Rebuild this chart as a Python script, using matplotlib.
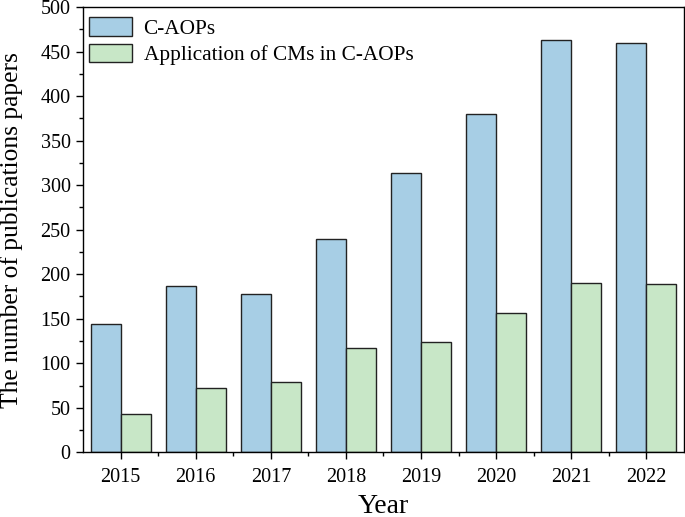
import numpy as np
import matplotlib
matplotlib.use('Agg')
import matplotlib.pyplot as plt
from matplotlib.ticker import MultipleLocator, FixedLocator


years = ['2015', '2016', '2017', '2018', '2019', '2020', '2021', '2022']
caops = [144, 187, 178, 240, 314, 380, 463, 459]
cms_in_caops = [43, 72, 79, 117, 124, 156, 190, 189]

plt.rcParams['font.family'] = ['Liberation Serif', 'DejaVu Serif']

fig = plt.figure(figsize=(6.85, 5.17), dpi=100)
ax = fig.add_axes([0.1212, 0.1251, 0.8773, 0.8614])

x = np.arange(len(years))
w = 0.4
ax.bar(x - w / 2, caops, w, color='#A7CEE5', edgecolor='#222222', linewidth=1.0,
       label='C-AOPs')
ax.bar(x + w / 2, cms_in_caops, w, color='#C8E7C7', edgecolor='#222222', linewidth=1.0,
       label='Application of CMs in C-AOPs')

ax.set_xlim(-0.5, len(years) - 0.5)
ax.set_ylim(0, 500)
ax.set_xticks(x)
ax.set_xticklabels(years)
ax.xaxis.set_minor_locator(FixedLocator(x[:-1] + 0.5))
ax.yaxis.set_major_locator(MultipleLocator(50))
ax.yaxis.set_minor_locator(MultipleLocator(25))

ax.tick_params(axis='both', which='major', labelsize=14.5, length=5, width=1.0,
               direction='out', top=False, right=False)
ax.tick_params(axis='x', which='major', pad=6)
ax.tick_params(axis='y', which='major', pad=4)
ax.tick_params(axis='both', which='minor', length=3, width=1.0,
               direction='out', top=False, right=False)

for s in ax.spines.values():
    s.set_linewidth(1.0)

ax.set_ylabel('The number of publications papers', fontsize=18.4)
ax.yaxis.set_label_coords(-0.1, 0.5)
ax.set_xlabel('Year', fontsize=20, labelpad=5)

ax.legend(loc='upper left', fontsize=15.3, frameon=False, handlelength=2.0,
          handleheight=0.95, labelspacing=0.22, borderaxespad=0.15, borderpad=0.15,
          handletextpad=0.55, bbox_to_anchor=(0.0, 0.991))

fig.savefig('out.png', dpi=100)
